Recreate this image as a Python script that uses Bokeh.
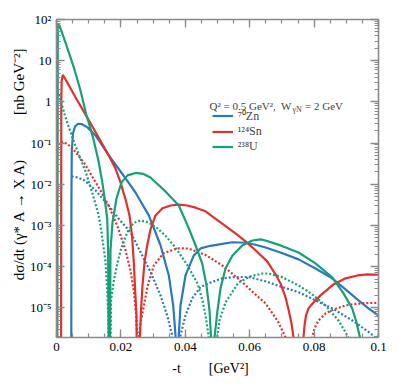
from bokeh.plotting import figure
from bokeh.models import (FixedTicker, LinearAxis, LogAxis, Legend, LegendItem,
                          Label, Range1d)
from bokeh.embed import file_html
from bokeh.resources import INLINE

# ---------------- data ----------------
X_TICKS = [0, 0.02, 0.04, 0.06, 0.08, 0.1]
X_TICK_LABELS = ["0", "0.02", "0.04", "0.06", "0.08", "0.1"]
Y_TICKS = [1e-5, 1e-4, 1e-3, 1e-2, 1e-1, 1, 10, 100]
Y_TICK_LABELS = ["10⁻⁵", "10⁻⁴", "10⁻³", "10⁻²", "10⁻¹", "1", "10", "10²"]

# 238U  solid
U_SOLID_T = [0.0002, 0.0004, 0.00093, 0.0031, 0.0053, 0.00745, 0.00916, 0.01056, 0.01158,
             0.01314, 0.01438, 0.01522, 0.01575, 0.01603, 0.0164, 0.01677, 0.01739, 0.01863,
             0.02019, 0.02205, 0.02453, 0.02702, 0.0292, 0.03075, 0.03385, 0.03798, 0.04109,
             0.04317, 0.04525, 0.04658, 0.04752, 0.0480, 0.0485, 0.04907, 0.0500, 0.05093,
             0.05248, 0.05466, 0.05767, 0.06087, 0.06335, 0.0649, 0.06957, 0.07516, 0.08043,
             0.08562, 0.08913, 0.09183, 0.09317, 0.09425, 0.0970, 0.1]
U_SOLID_V = [1e-9, 78, 71, 23.4, 7.2, 1.89, 0.52, 0.226, 0.116,
             0.0338, 9.4e-3, 3.05e-3, 1.48e-3, 2.5e-4, 1e-9, 2.5e-4, 1.18e-3, 4.5e-3,
             0.0111, 0.0164, 0.0188, 0.0178, 0.0146, 0.0112, 6.7e-3, 3.05e-3, 8.5e-4,
             3.3e-4, 1.2e-4, 3.5e-5, 8.6e-6, 1.9e-6, 1e-9, 1.9e-6, 8.6e-6, 2.96e-5,
             9.0e-5, 1.87e-4, 3.27e-4, 4.3e-4, 4.57e-4, 4.3e-4, 3.27e-4, 2.2e-4, 1.2e-4,
             5.5e-5, 2.24e-5, 9.7e-6, 4.4e-6, 1.9e-6, 1e-9, 2.2e-6]
# 238U  dotted
U_DOT_T = [0.0002, 0.00047, 0.0028, 0.0056, 0.0090, 0.01109, 0.01304, 0.01398, 0.01522,
           0.01584, 0.01615, 0.0164, 0.01693, 0.0177, 0.01894, 0.02019, 0.02196, 0.02391,
           0.02609, 0.02857, 0.03106, 0.03385, 0.03696, 0.04068, 0.04379, 0.04534, 0.04643,
           0.0473, 0.0485, 0.0499, 0.0506, 0.05248, 0.05652, 0.06025, 0.064, 0.0658,
           0.06957, 0.07516, 0.0795, 0.08354, 0.08758, 0.0907, 0.097]
U_DOT_V = [1.85, 1.79, 0.418, 0.0977, 0.0205, 6.3e-3, 1.85e-3, 6.8e-4, 1.34e-4,
           2.0e-5, 3.7e-6, 1e-9, 1.51e-5, 4.1e-5, 1.26e-4, 2.9e-4, 6.8e-4, 1.15e-3,
           1.32e-3, 1.18e-3, 8.9e-4, 5.6e-4, 2.9e-4, 1.07e-4, 3.9e-5, 1.51e-5, 5.5e-6,
           1.9e-6, 1e-9, 1.9e-6, 4.9e-6, 1.35e-5, 4.1e-5, 5.8e-5, 6.8e-5, 6.8e-5,
           5.8e-5, 3.5e-5, 2.1e-5, 1.14e-5, 4.9e-6, 1.9e-6, 1e-9]

# 124Sn  solid
SN_SOLID_T = [0.0014, 0.00149, 0.00161, 0.00196, 0.00248, 0.0059, 0.00916, 0.01273, 0.01624,
              0.01832, 0.01988, 0.02143, 0.02267, 0.02345, 0.02401, 0.02444, 0.02484, 0.02525,
              0.02593, 0.02624, 0.02671, 0.02733, 0.02817, 0.02919, 0.03075, 0.03292, 0.0354,
              0.03789, 0.04068, 0.04317, 0.04627, 0.05093, 0.05559, 0.0587, 0.0618, 0.06544,
              0.06801, 0.06957, 0.07112, 0.07205, 0.07298, 0.0736, 0.0752, 0.0767, 0.07702,
              0.07748, 0.07826, 0.07981, 0.08199, 0.08602, 0.08975, 0.09348, 0.09658, 0.1]
SN_SOLID_V = [1e-9, 1.08, 3.3, 4.5, 3.9, 1.3, 0.47, 0.153, 0.05,
              0.024, 0.0111, 4.3e-3, 1.75e-3, 5.7e-4, 1.26e-4, 2.6e-5, 6.5e-6, 1e-9,
              1.9e-6, 8.6e-6, 3.5e-5, 1.26e-4, 3.3e-4, 8.0e-4, 1.75e-3, 2.6e-3, 3.05e-3,
              3.2e-3, 3.05e-3, 2.7e-3, 2.2e-3, 1.18e-3, 6.4e-4, 4.1e-4, 2.5e-4, 1.34e-4,
              6.5e-5, 3.9e-5, 1.8e-5, 9.1e-6, 4.2e-6, 1.9e-6, 1e-9, 1.9e-6, 3.7e-6,
              6.5e-6, 9.7e-6, 1.35e-5, 2.0e-5, 3.7e-5, 5.2e-5, 6.1e-5, 6.5e-5, 6.3e-5]
# 124Sn  dotted
SN_DOT_T = [0.0014, 0.00227, 0.00435, 0.00652, 0.0087, 0.01087, 0.01366, 0.01615, 0.01894,
            0.02143, 0.02298, 0.02407, 0.02469, 0.02509, 0.02525, 0.02562, 0.02609, 0.02711,
            0.02826, 0.03022, 0.03323, 0.03748, 0.04099, 0.04379, 0.04627, 0.05146, 0.05714,
            0.0618, 0.06491, 0.06708, 0.06894, 0.07112, 0.0752, 0.0794, 0.08012, 0.08137,
            0.08354, 0.08602, 0.08975, 0.09286, 0.09596, 0.1]
SN_DOT_V = [0.106, 0.106, 0.083, 0.053, 0.032, 0.0164, 7.1e-3, 3.05e-3, 9.5e-4,
            2.5e-4, 8.1e-5, 2.4e-5, 7.3e-6, 1.9e-6, 1e-9, 1.9e-6, 4.4e-6, 1.08e-5,
            3.3e-5, 1.07e-4, 2.1e-4, 2.77e-4, 2.75e-4, 2.28e-4, 1.92e-4, 1.07e-4, 4.6e-5,
            2.1e-5, 1.28e-5, 7.3e-6, 4.4e-6, 1.9e-6, 1e-9, 1.9e-6, 3.2e-6, 4.9e-6,
            7.3e-6, 9.1e-6, 1.14e-5, 1.24e-5, 1.3e-5, 1.32e-5]

# 70Zn  solid
ZN_SOLID_T = [0.00457, 0.00463, 0.00475, 0.00512, 0.00575, 0.00668, 0.00776, 0.00963, 0.01211,
              0.01624, 0.0204, 0.02453, 0.02866, 0.0323, 0.03488, 0.03624, 0.03696, 0.0373,
              0.03798, 0.03851, 0.04006, 0.04264, 0.04472, 0.04783, 0.05146, 0.05466, 0.0587,
              0.0618, 0.06491, 0.06957, 0.07516, 0.08043, 0.08562, 0.08975, 0.09379, 0.09689, 0.1]
ZN_SOLID_V = [1e-9, 4e-3, 0.066, 0.171, 0.253, 0.294, 0.29, 0.24, 0.153,
              0.050, 0.018, 6.3e-3, 1.75e-3, 3.3e-4, 6.1e-5, 1.14e-5, 2.14e-6, 1e-9,
              2.14e-6, 1.14e-5, 6.1e-5, 1.87e-4, 2.77e-4, 3.2e-4, 3.55e-4, 3.9e-4, 3.8e-4,
              3.4e-4, 2.9e-4, 2.2e-4, 1.5e-4, 9.0e-5, 5.2e-5, 2.8e-5, 1.51e-5, 9.7e-6, 6.5e-6]
# 70Zn  dotted
ZN_DOT_T = [0.0047, 0.00652, 0.0087, 0.01211, 0.01615, 0.01925, 0.02298, 0.02609, 0.0292,
            0.0323, 0.03438, 0.03593, 0.0372, 0.03851, 0.04006, 0.04214, 0.04472, 0.04783,
            0.05146, 0.05559, 0.05963, 0.0649, 0.06957, 0.07516, 0.08043, 0.08562, 0.08975,
            0.09286, 0.09503, 0.09752, 0.0991, 0.1]
ZN_DOT_V = [0.0155, 0.0146, 0.0124, 7.1e-3, 3.05e-3, 1.48e-3, 6.9e-4, 2.25e-4, 7.4e-5,
            2.0e-5, 6.5e-6, 2.14e-6, 1e-9, 2.14e-6, 6.5e-6, 1.69e-5, 3.2e-5, 4.1e-5,
            5.2e-5, 5.6e-5, 5.6e-5, 4.4e-5, 3.3e-5, 2.4e-5, 1.51e-5, 9.7e-6, 6.2e-6,
            4.4e-6, 3.3e-6, 2.4e-6, 1.9e-6, 1.6e-6]

NUCLEI = ["⁷⁰Zn", "¹²⁴Sn", "²³⁸U"]
COLORS = ["#2b79bd", "#e2302f", "#16a078"]

# ---------------- styling ----------------
FONT = "Liberation Serif"
AXIS_COLOR = "#8a8a8a"

p = figure(width=399, height=383,
           x_range=Range1d(0, 0.1), y_range=Range1d(1.9e-6, 100),
           y_axis_type="log", output_backend="svg", toolbar_location=None,
           min_border_left=56, min_border_right=21, min_border_top=19,
           min_border_bottom=46)
p.outline_line_color = None
p.xgrid.visible = False
p.ygrid.visible = False
p.background_fill_color = "white"
p.border_fill_color = "white"

x_minor = [i * 0.005 for i in range(21)]
y_minor = [k * 10.0 ** e for e in range(-6, 2) for k in range(2, 10)]
xticker = FixedTicker(ticks=X_TICKS, minor_ticks=x_minor)
yticker = FixedTicker(ticks=Y_TICKS, minor_ticks=y_minor)


def style_axis(ax):
    ax.axis_line_color = AXIS_COLOR
    ax.axis_line_width = 1.6
    ax.major_tick_line_color = AXIS_COLOR
    ax.minor_tick_line_color = AXIS_COLOR
    ax.major_tick_line_width = 1.3
    ax.minor_tick_line_width = 1.2
    ax.major_tick_in = 8
    ax.major_tick_out = 0
    ax.minor_tick_in = 4
    ax.minor_tick_out = 0
    ax.major_label_text_font = FONT
    ax.major_label_text_font_size = "13px"
    ax.major_label_text_color = "black"
    ax.axis_label_text_font = FONT
    ax.axis_label_text_font_style = "normal"
    ax.axis_label_text_color = "black"


xa = p.xaxis[0]
xa.ticker = xticker
style_axis(xa)
xa.major_label_overrides = dict(zip(X_TICKS, X_TICK_LABELS))
xa.major_label_standoff = 5
xa.axis_label = "-t\u2003\u2003[GeV²]\u2003"
xa.axis_label_text_font_size = "14px"
xa.axis_label_standoff = 7

ya = p.yaxis[0]
ya.ticker = yticker
style_axis(ya)
ya.major_label_overrides = dict(zip(Y_TICKS, Y_TICK_LABELS))
ya.major_label_standoff = 5
ya.axis_label = "\u2003\u2003dσ/dt (γ* A → X A)\u2003\u2003\u2003[nb GeV⁻²]"
ya.axis_label_text_font_size = "15px"
ya.axis_label_standoff = 0

top = LinearAxis(ticker=xticker)
style_axis(top)
top.major_label_text_font_size = "0px"
top.major_label_overrides = {t: "" for t in X_TICKS}
p.add_layout(top, "above")

right = LogAxis(ticker=yticker)
style_axis(right)
right.major_label_text_font_size = "0px"
right.major_label_overrides = {t: "" for t in Y_TICKS}
p.add_layout(right, "right")

# ---------------- curves ----------------
series = [
    (ZN_SOLID_T, ZN_SOLID_V, ZN_DOT_T, ZN_DOT_V),
    (SN_SOLID_T, SN_SOLID_V, SN_DOT_T, SN_DOT_V),
    (U_SOLID_T, U_SOLID_V, U_DOT_T, U_DOT_V),
]
solid_renderers = []
for (ts, vs, td, vd), color in zip(series, COLORS):
    p.line(td, vd, line_color=color, line_width=2.2, line_dash="2 2")
    r = p.line(ts, vs, line_color=color, line_width=2.2)
    solid_renderers.append(r)

legend = Legend(
    items=[LegendItem(label=n, renderers=[r]) for n, r in zip(NUCLEI, solid_renderers)],
    location=(155.7, 182.8), padding=0, margin=0, spacing=0,
    glyph_width=21, glyph_height=15, label_height=15, label_standoff=5,
    label_text_font=FONT, label_text_font_size="12px",
    border_line_alpha=0, background_fill_alpha=0)
p.add_layout(legend)

p.add_layout(Label(x=153, y=232, x_units="screen", y_units="screen",
                   text="Q² = 0.5 GeV²,\u00a0 W", text_font=FONT,
                   text_font_size="11px", text_baseline="alphabetic"))
p.add_layout(Label(x=236, y=228.5, x_units="screen", y_units="screen",
                   text="γN", text_font=FONT,
                   text_font_size="8px", text_baseline="alphabetic"))
p.add_layout(Label(x=248.5, y=232, x_units="screen", y_units="screen",
                   text="= 2 GeV", text_font=FONT,
                   text_font_size="11px", text_baseline="alphabetic"))

open("out.html", "w").write(file_html(p, INLINE))
